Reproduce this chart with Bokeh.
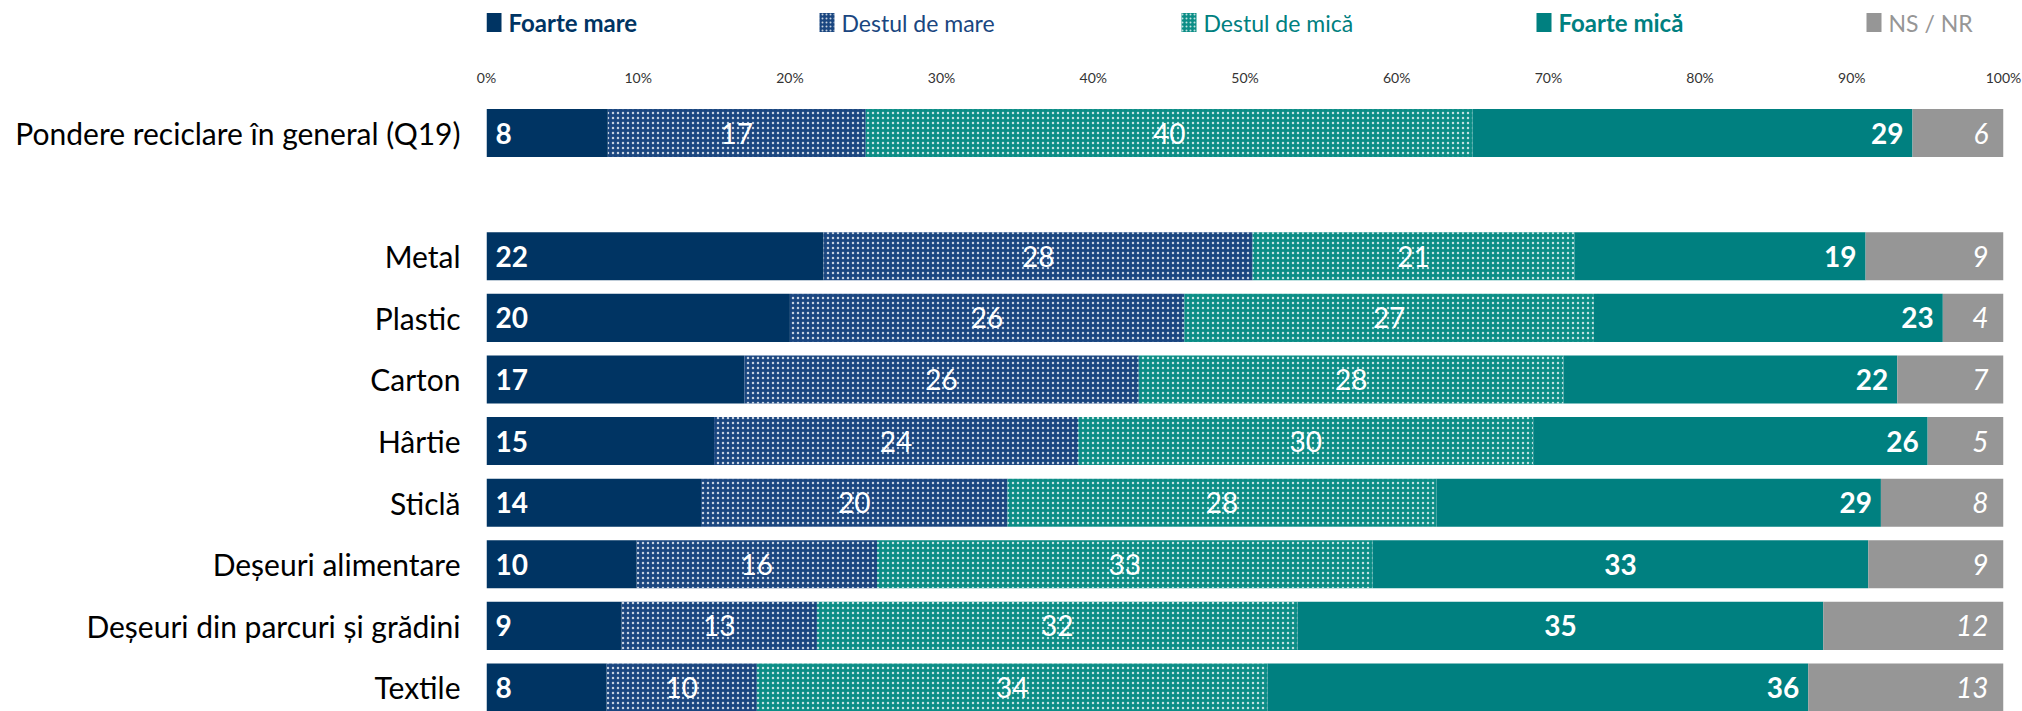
from bokeh.plotting import figure
from bokeh.layouts import column
from bokeh.models import Range1d, FixedTicker, ColumnDataSource
from bokeh.core.properties import value
from bokeh.embed import file_html
from bokeh.resources import INLINE

# ---------------- data ----------------
categories = ["Pondere reciclare în general (Q19)", "Metal", "Plastic", "Carton", "Hârtie",
              "Sticlă", "Deșeuri alimentare", "Deșeuri din parcuri și grădini", "Textile"]
series_names = ["Foarte mare", "Destul de mare", "Destul de mică", "Foarte mică", "NS / NR"]
foarte_mare = [8, 22, 20, 17, 15, 14, 10, 9, 8]
destul_mare = [17, 28, 26, 26, 24, 20, 16, 13, 10]
destul_mica = [40, 21, 27, 28, 30, 28, 33, 32, 34]
foarte_mica = [29, 19, 23, 22, 26, 29, 33, 35, 36]
ns_nr = [6, 9, 4, 7, 5, 8, 9, 12, 13]
tick_values = [0, 10, 20, 30, 40, 50, 60, 70, 80, 90, 100]
tick_labels = ["0%", "10%", "20%", "30%", "40%", "50%", "60%", "70%", "80%", "90%", "100%"]
foarte_mica_align = ["right", "right", "right", "right", "right", "right", "center", "center", "right"]

# ---------------- styles ----------------
FONT = "Lato"
C_FM = "#003463"
C_DM = "#1a4680"
C_DMI = "#0b8d86"
C_FMI = "#008080"
C_NS = "#969696"
colors = [C_FM, C_DM, C_DMI, C_FMI, C_NS]
hatches = [None, "dot", "dot", None, None]
FRAME_W = 1517


def hatch_kw(k, scale=5):
    if hatches[k]:
        return dict(hatch_pattern=hatches[k], hatch_color="white", hatch_alpha=0.75,
                    hatch_scale=scale, hatch_weight=2.0)
    return {}


# row positions: the general question is separated by one empty row
rows = [0] + [i + 1 for i in range(1, len(categories))]

series = [foarte_mare, destul_mare, destul_mica, foarte_mica, ns_nr]
totals = [sum(s[i] for s in series) for i in range(len(categories))]
norm = [[100.0 * s[i] / totals[i] for i in range(len(categories))] for s in series]

lefts, rights = [], []
acc = [0.0] * len(categories)
for s in norm:
    l = list(acc)
    acc = [a + v for a, v in zip(acc, s)]
    lefts.append(l)
    rights.append(list(acc))

p = figure(frame_width=FRAME_W, frame_height=616,
           x_range=Range1d(0, 100), y_range=Range1d(rows[-1] + 0.39, -0.61),
           output_backend="svg", toolbar_location=None,
           x_axis_location="above", min_border_left=486, min_border_top=45,
           min_border_right=19, min_border_bottom=0)
p.outline_line_color = None
p.xgrid.visible = False
p.ygrid.visible = False

for k in range(5):
    src = ColumnDataSource(dict(y=rows, left=lefts[k], right=rights[k]))
    p.hbar(y="y", left="left", right="right", height=0.78, source=src,
           fill_color=colors[k], line_color=None, **hatch_kw(k))

# value labels
lab_fm = ColumnDataSource(dict(x=lefts[0], y=rows, t=[str(v) for v in foarte_mare]))
p.text(x="x", y="y", text="t", source=lab_fm, text_align="left", text_baseline="middle",
       x_offset=9, text_color="white", text_font=value(FONT), text_font_style="bold",
       text_font_size="28px")
for k, vals in ((1, destul_mare), (2, destul_mica)):
    mids = [(a + b) / 2 for a, b in zip(lefts[k], rights[k])]
    src = ColumnDataSource(dict(x=mids, y=rows, t=[str(v) for v in vals]))
    p.text(x="x", y="y", text="t", source=src, text_align="center", text_baseline="middle",
           text_color="white", text_font=value(FONT), text_font_size="28px")

r_idx = [i for i, a in enumerate(foarte_mica_align) if a == "right"]
c_idx = [i for i, a in enumerate(foarte_mica_align) if a == "center"]
src_r = ColumnDataSource(dict(x=[rights[3][i] for i in r_idx], y=[rows[i] for i in r_idx],
                              t=[str(foarte_mica[i]) for i in r_idx]))
p.text(x="x", y="y", text="t", source=src_r, text_align="right", text_baseline="middle",
       x_offset=-9, text_color="white", text_font=value(FONT), text_font_style="bold",
       text_font_size="28px")
src_c = ColumnDataSource(dict(x=[(lefts[3][i] + rights[3][i]) / 2 for i in c_idx],
                              y=[rows[i] for i in c_idx], t=[str(foarte_mica[i]) for i in c_idx]))
p.text(x="x", y="y", text="t", source=src_c, text_align="center", text_baseline="middle",
       text_color="white", text_font=value(FONT), text_font_style="bold", text_font_size="28px")

src_ns = ColumnDataSource(dict(x=rights[4], y=rows, t=[str(v) for v in ns_nr]))
p.text(x="x", y="y", text="t", source=src_ns, text_align="right", text_baseline="middle",
       x_offset=-15, text_color="white", text_font=value(FONT), text_font_style="italic",
       text_font_size="28px")

# axes
xa = p.xaxis[0]
xa.ticker = FixedTicker(ticks=tick_values)
xa.major_label_overrides = {v: l for v, l in zip(tick_values, tick_labels)}
xa.axis_line_color = None
xa.major_tick_line_color = None
xa.minor_tick_line_color = None
xa.major_tick_out = 0
xa.major_tick_in = 0
xa.major_label_text_font = FONT
xa.major_label_text_font_size = "14px"
xa.major_label_text_color = "#333333"
xa.major_label_standoff = 10

ya = p.yaxis[0]
ya.ticker = FixedTicker(ticks=rows)
ya.major_label_overrides = {r: c for r, c in zip(rows, categories)}
ya.axis_line_color = None
ya.major_tick_line_color = None
ya.minor_tick_line_color = None
ya.major_tick_out = 0
ya.major_tick_in = 0
ya.major_label_text_font = FONT
ya.major_label_text_font_size = "30px"
ya.major_label_text_color = "#000000"
ya.major_label_standoff = 26

# legend strip above the chart (its frame is aligned with the chart frame; units = px)
lf = figure(frame_width=FRAME_W, frame_height=50, x_range=Range1d(0, FRAME_W),
            y_range=Range1d(0, 50), output_backend="svg", toolbar_location=None,
            min_border_left=486, min_border_right=19, min_border_top=0, min_border_bottom=0)
lf.outline_line_color = None
lf.xaxis.visible = False
lf.yaxis.visible = False
lf.xgrid.visible = False
lf.ygrid.visible = False
leg_x = [0, 333, 695, 1050, 1380]
leg_color = [C_FM, C_DM, C_FMI, C_FMI, C_NS]
leg_style = ["bold", "normal", "normal", "bold", "normal"]
leg_size = ["24px", "23px", "23px", "24px", "23px"]
LEG_Y = 28
for k in range(5):
    lf.rect(x=[leg_x[k] + 7.5], y=[LEG_Y], width=15, height=19, fill_color=colors[k],
            line_color=None, **hatch_kw(k, scale=4))
    lf.text(x=[leg_x[k] + 22], y=[LEG_Y], text=[series_names[k]], text_align="left",
            text_baseline="middle", text_color=leg_color[k], text_font=value(FONT),
            text_font_style=leg_style[k], text_font_size=leg_size[k])

layout = column(lf, p, spacing=0)
open("out.html", "w").write(file_html(layout, INLINE))
